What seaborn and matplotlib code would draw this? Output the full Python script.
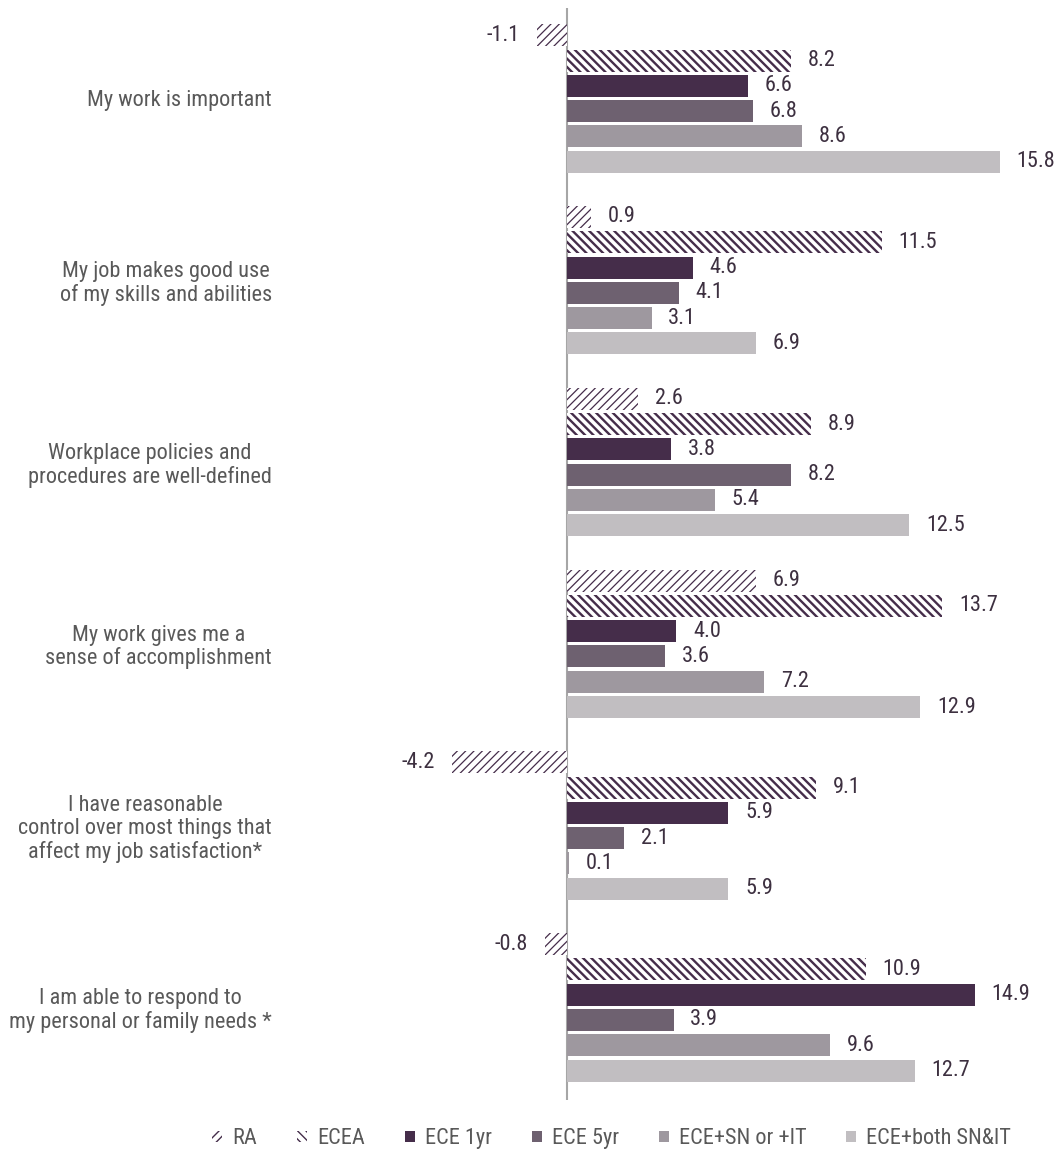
import matplotlib
matplotlib.use("Agg")
import matplotlib.pyplot as plt
from matplotlib.patches import Patch
import seaborn as sns
import pandas as pd

statements = [
    "My work is important",
    "My job makes good use\nof my skills and abilities",
    "Workplace policies and\nprocedures are well-defined",
    "My work gives me a\nsense of accomplishment",
    "I have reasonable\ncontrol over most things that\naffect my job satisfaction*",
    "I am able to respond to\nmy personal or family needs *",
]
groups = ["RA", "ECEA", "ECE 1yr", "ECE 5yr", "ECE+SN or +IT", "ECE+both SN&IT"]

ra = [-1.1, 0.9, 2.6, 6.9, -4.2, -0.8]
ecea = [8.2, 11.5, 8.9, 13.7, 9.1, 10.9]
ece_1yr = [6.6, 4.6, 3.8, 4.0, 5.9, 14.9]
ece_5yr = [6.8, 4.1, 8.2, 3.6, 2.1, 3.9]
ece_sn_or_it = [8.6, 3.1, 5.4, 7.2, 0.1, 9.6]
ece_both = [15.8, 6.9, 12.5, 12.9, 5.9, 12.7]

series = [ra, ecea, ece_1yr, ece_5yr, ece_sn_or_it, ece_both]
rows = []
for g, vals in zip(groups, series):
    for s, v in zip(statements, vals):
        rows.append({"statement": s, "group": g, "value": v})
df = pd.DataFrame(rows)

dark = "#452D4A"
colors = ["white", "white", dark, "#6E6170", "#9E989F", "#C1BEC1"]
hatches = ["////", "\\\\\\\\", None, None, None, None]
hatch_lw = [0.9, 1.7, 0, 0, 0, 0]
text_col = "#595959"
value_col = "#3D3040"
fs = 16

sns.set_style("white")
plt.rcParams["font.family"] = ["Arial Narrow", "Liberation Sans Narrow", "Roboto Condensed",
                               "Archivo Narrow", "DejaVu Sans"]

fig = plt.figure(figsize=(10.58, 11.51), dpi=100)
ax = fig.add_axes([0.274, 0.0443, 0.671, 0.9488])

sns.barplot(data=df, y="statement", x="value", hue="group", hue_order=groups,
            order=statements, palette=colors, width=0.835, gap=0.13,
            orient="h", ax=ax, legend=False, saturation=1)

def set_hlw(p, lw):
    if hasattr(p, "set_hatch_linewidth"):
        p.set_hatch_linewidth(lw)
    else:
        p._hatch_linewidth = lw

for i, cont in enumerate(ax.containers):
    for bar in cont:
        bar.set_linewidth(0)
        if hatches[i]:
            bar.set_hatch(hatches[i])
            bar.set_edgecolor(dark)
            set_hlw(bar, hatch_lw[i])
    ax.bar_label(cont, fmt="%.1f", padding=12, fontsize=fs, color=value_col)

ax.set_xlim(-10.1, 15.8)
ax.set_ylim(5.51, -0.498)
ax.axvline(0, color="#A6A6A6", lw=1.5, zorder=0)
for sp in ax.spines.values():
    sp.set_visible(False)
ax.set_xticks([])
ax.set_xlabel("")
ax.set_ylabel("")
ax.tick_params(axis="y", length=0, pad=13, labelsize=fs, labelcolor=text_col)
for lbl in ax.get_yticklabels():
    lbl.set_horizontalalignment("right")
    lbl.set_multialignment("center")
    lbl.set_linespacing(1.1)

handles = []
for i, (c, h) in enumerate(zip(colors, hatches)):
    if h:
        p = Patch(facecolor="white", edgecolor=dark, hatch=h, linewidth=0)
        set_hlw(p, hatch_lw[i])
        handles.append(p)
    else:
        handles.append(Patch(facecolor=c, linewidth=0))
fig.legend(handles, groups, loc="center left", bbox_to_anchor=(0.19, 0.0105), ncol=6,
           frameon=False, fontsize=fs, handlelength=0.45, handleheight=0.45,
           handletextpad=0.45, columnspacing=1.8, borderpad=0, labelcolor=text_col)

fig.savefig("out.png", dpi=100)
